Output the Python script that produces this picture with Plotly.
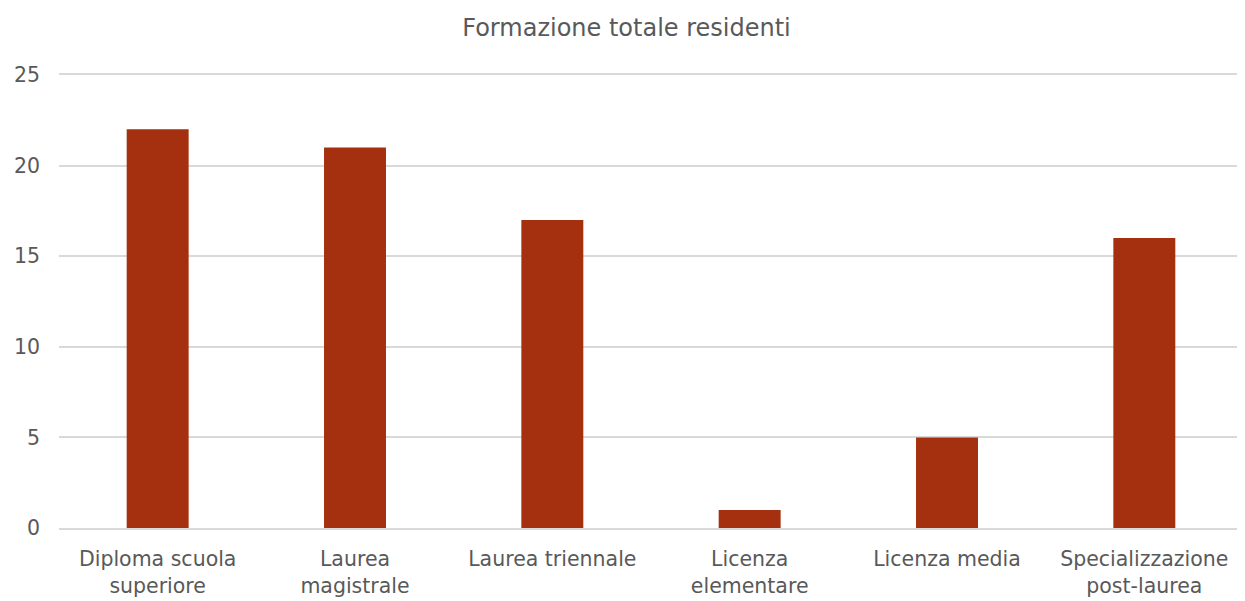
import plotly.graph_objects as go

categories = ["Diploma scuola<br>superiore", "Laurea<br>magistrale", "Laurea triennale",
              "Licenza<br>elementare", "Licenza media", "Specializzazione<br>post-laurea"]
values = [22, 21, 17, 1, 5, 16]
y_ticks = [0, 5, 10, 15, 20, 25]

font_family = "Century Gothic, DejaVu Sans"
text_color = "#595959"
grid_color = "#D9D9D9"

# page body has an 8px margin; figure is sized to fill the remaining window
W, H = 1237, 593

fig = go.Figure(go.Bar(x=categories, y=values, marker=dict(color="#A5300F", line=dict(width=0)),
                       hoverinfo="x+y"))

fig.update_layout(
    width=W, height=H,
    margin=dict(l=51, r=2, t=67, b=73),
    paper_bgcolor="white", plot_bgcolor="white",
    title=dict(text="Formazione totale residenti", x=0.5, xanchor="center",
               y=1 - 20 / H, yanchor="middle",
               font=dict(family=font_family, size=24, color=text_color)),
    bargap=0.686,
    showlegend=False,
    font=dict(family=font_family, color=text_color),
)
fig.update_xaxes(showgrid=False, showline=True, linecolor=grid_color, linewidth=1.5,
                 mirror=True, automargin=False,
                 tickfont=dict(size=20.5, color=text_color), ticks="", ticklabelstandoff=12)
fig.update_yaxes(range=[0, 25], tickvals=y_ticks, showgrid=True, gridcolor=grid_color, gridwidth=1.5,
                 zeroline=False, showline=False, automargin=False,
                 tickfont=dict(size=20.5, color=text_color),
                 ticks="", ticklabelstandoff=18)

fig.write_html("out.html")
